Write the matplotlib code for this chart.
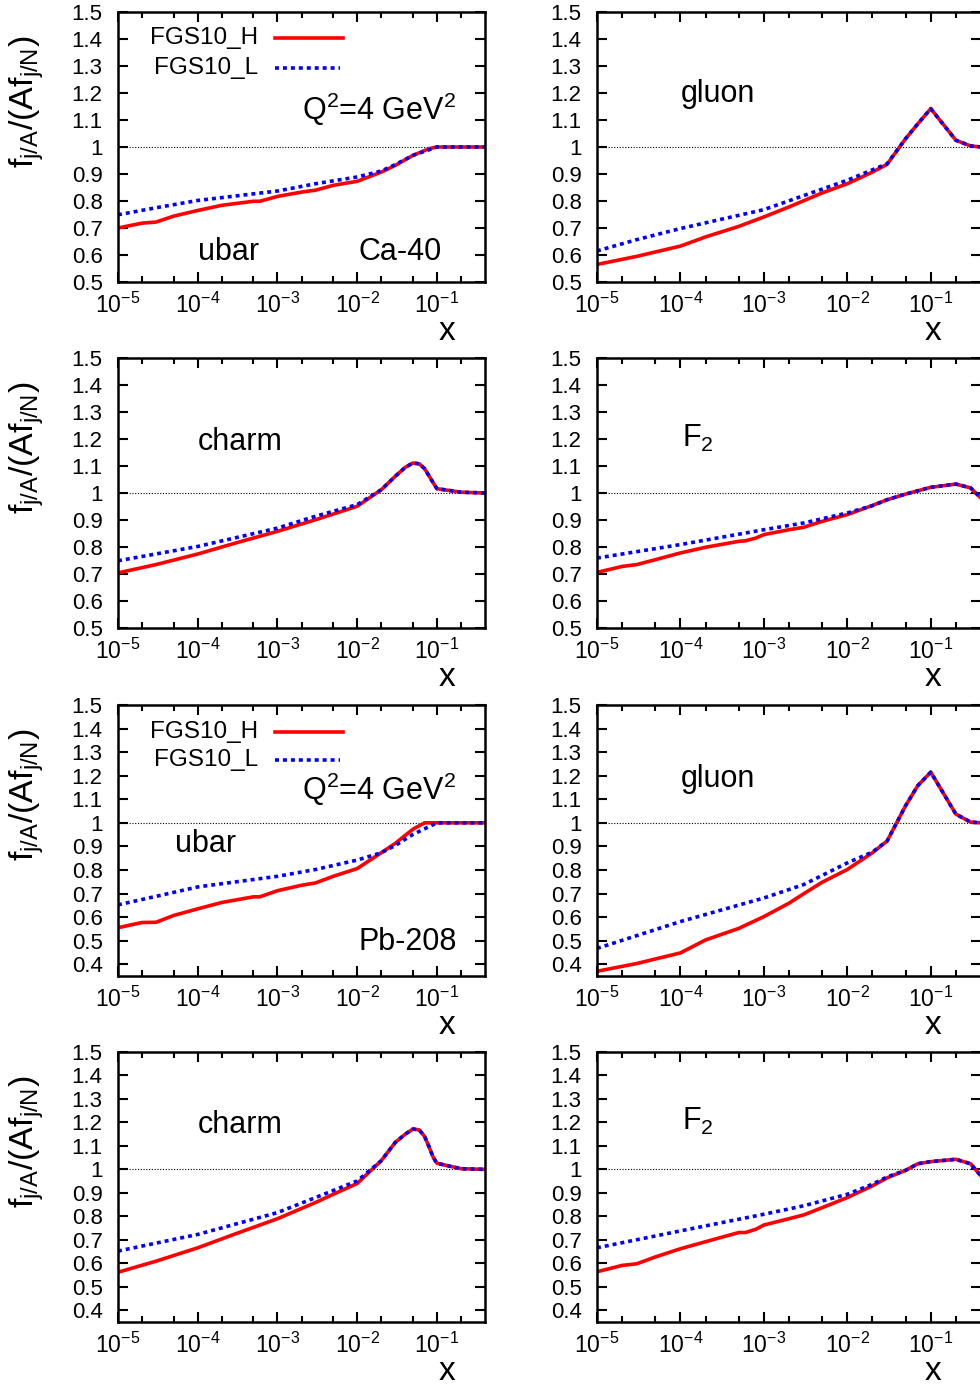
import numpy as np
import matplotlib
matplotlib.use('Agg')
import matplotlib.pyplot as plt
from matplotlib.ticker import LogLocator, FuncFormatter, NullFormatter

plt.rcParams['font.family'] = ['Liberation Sans', 'DejaVu Sans']
plt.rcParams['mathtext.fontset'] = 'custom'
plt.rcParams['mathtext.rm'] = 'Liberation Sans'
plt.rcParams['mathtext.it'] = 'Liberation Sans'
plt.rcParams['mathtext.bf'] = 'Liberation Sans:bold'
plt.rcParams['axes.unicode_minus'] = False

# ---- data: ratio f_{j/A}/(A f_{j/N}) vs x ----
# Ca-40, ubar
ca_ubar_xH = [1e-5, 2e-5, 3e-5, 5e-5, 1e-4, 2e-4, 5e-4, 6e-4, 1e-3, 2e-3, 3e-3, 5e-3, 1e-2, 2e-2, 3e-2, 5e-2, 8e-2, 0.1, 0.4]
ca_ubar_H = [0.700, 0.718, 0.722, 0.744, 0.765, 0.784, 0.799, 0.799, 0.817, 0.833, 0.840, 0.858, 0.873, 0.907, 0.932, 0.969, 0.994, 1.0, 1.0]
ca_ubar_xL = [1e-5, 3e-5, 1e-4, 1e-3, 3e-3, 1e-2, 2e-2, 3e-2, 5e-2, 0.1, 0.4]
ca_ubar_L = [0.749, 0.775, 0.802, 0.837, 0.864, 0.889, 0.911, 0.935, 0.969, 1.0, 1.0]

# Ca-40, gluon
ca_glu_xH = [1e-5, 3e-5, 1e-4, 2e-4, 5e-4, 1e-3, 2e-3, 5e-3, 1e-2, 2e-2, 3e-2, 5e-2, 7e-2, 0.1, 0.2, 0.3, 0.4]
ca_glu_H = [0.565, 0.595, 0.633, 0.667, 0.706, 0.741, 0.778, 0.830, 0.864, 0.907, 0.936, 1.031, 1.086, 1.142, 1.025, 1.004, 1.0]
ca_glu_xL = [1e-5, 3e-5, 1e-4, 1e-3, 1e-2, 3e-2, 5e-2, 7e-2, 0.1, 0.2, 0.3, 0.4]
ca_glu_L = [0.615, 0.657, 0.698, 0.768, 0.877, 0.938, 1.031, 1.086, 1.142, 1.025, 1.004, 1.0]

# Ca-40, charm
ca_chm_xH = [1e-5, 3e-5, 1e-4, 3e-4, 1e-3, 3e-3, 5e-3, 1e-2, 2e-2, 3e-2, 4e-2, 5e-2, 6e-2, 7e-2, 8e-2, 9e-2, 0.1, 0.2, 0.4]
ca_chm_H = [0.704, 0.735, 0.774, 0.815, 0.858, 0.901, 0.922, 0.951, 1.012, 1.062, 1.095, 1.111, 1.108, 1.090, 1.062, 1.037, 1.016, 1.003, 1.0]
ca_chm_xL = [1e-5, 1e-4, 1e-3, 3e-3, 1e-2, 2e-2, 3e-2, 4e-2, 5e-2, 6e-2, 7e-2, 8e-2, 9e-2, 0.1, 0.2, 0.4]
ca_chm_L = [0.749, 0.802, 0.870, 0.914, 0.957, 1.012, 1.062, 1.095, 1.111, 1.108, 1.090, 1.062, 1.037, 1.016, 1.003, 1.0]

# Ca-40, F2
ca_f2_xH = [1e-5, 2e-5, 3e-5, 5e-5, 1e-4, 2e-4, 5e-4, 6e-4, 8e-4, 1e-3, 2e-3, 3e-3, 5e-3, 1e-2, 2e-2, 3e-2, 5e-2, 0.1, 0.2, 0.3, 0.4]
ca_f2_H = [0.706, 0.728, 0.735, 0.753, 0.778, 0.799, 0.821, 0.823, 0.833, 0.846, 0.864, 0.873, 0.895, 0.920, 0.954, 0.975, 0.996, 1.021, 1.033, 1.019, 0.981]
ca_f2_xL = [1e-5, 1e-4, 1e-3, 3e-3, 1e-2, 2e-2, 3e-2, 5e-2, 0.1, 0.2, 0.3, 0.4]
ca_f2_L = [0.759, 0.809, 0.864, 0.889, 0.926, 0.953, 0.975, 0.996, 1.021, 1.033, 1.019, 0.981]

# Pb-208, ubar
pb_ubar_xH = [1e-5, 2e-5, 3e-5, 5e-5, 1e-4, 2e-4, 5e-4, 6e-4, 1e-3, 2e-3, 3e-3, 5e-3, 1e-2, 2e-2, 3e-2, 5e-2, 7e-2, 0.1, 0.4]
pb_ubar_H = [0.555, 0.577, 0.578, 0.607, 0.635, 0.662, 0.686, 0.686, 0.712, 0.735, 0.745, 0.773, 0.806, 0.873, 0.913, 0.973, 1.0, 1.0, 1.0]
pb_ubar_xL = [1e-5, 3e-5, 1e-4, 1e-3, 3e-3, 1e-2, 2e-2, 3e-2, 5e-2, 0.1, 0.4]
pb_ubar_L = [0.652, 0.688, 0.728, 0.773, 0.802, 0.842, 0.873, 0.904, 0.951, 1.0, 1.0]

# Pb-208, gluon
pb_glu_xH = [1e-5, 3e-5, 1e-4, 2e-4, 5e-4, 1e-3, 2e-3, 3e-3, 5e-3, 1e-2, 2e-2, 3e-2, 5e-2, 7e-2, 0.1, 0.2, 0.3, 0.4]
pb_glu_H = [0.370, 0.403, 0.448, 0.503, 0.552, 0.602, 0.659, 0.699, 0.748, 0.802, 0.873, 0.923, 1.073, 1.158, 1.215, 1.037, 1.003, 1.0]
pb_glu_xL = [1e-5, 1e-4, 1e-3, 3e-3, 1e-2, 2e-2, 3e-2, 5e-2, 7e-2, 0.1, 0.2, 0.3, 0.4]
pb_glu_L = [0.467, 0.581, 0.681, 0.738, 0.830, 0.876, 0.923, 1.073, 1.158, 1.215, 1.037, 1.003, 1.0]

# Pb-208, charm
pb_chm_xH = [1e-5, 3e-5, 1e-4, 3e-4, 1e-3, 3e-3, 5e-3, 1e-2, 2e-2, 3e-2, 4e-2, 5e-2, 6e-2, 7e-2, 8e-2, 9e-2, 0.1, 0.2, 0.4]
pb_chm_H = [0.562, 0.609, 0.666, 0.726, 0.790, 0.859, 0.894, 0.940, 1.037, 1.115, 1.150, 1.172, 1.168, 1.140, 1.094, 1.050, 1.026, 1.003, 1.0]
pb_chm_xL = [1e-5, 1e-4, 1e-3, 3e-3, 1e-2, 2e-2, 3e-2, 4e-2, 5e-2, 6e-2, 7e-2, 8e-2, 9e-2, 0.1, 0.2, 0.4]
pb_chm_L = [0.652, 0.723, 0.816, 0.880, 0.951, 1.037, 1.115, 1.150, 1.172, 1.168, 1.140, 1.094, 1.050, 1.026, 1.003, 1.0]

# Pb-208, F2
pb_f2_xH = [1e-5, 2e-5, 3e-5, 5e-5, 1e-4, 2e-4, 5e-4, 6e-4, 8e-4, 1e-3, 2e-3, 3e-3, 5e-3, 1e-2, 2e-2, 3e-2, 5e-2, 7e-2, 0.1, 0.2, 0.3, 0.4]
pb_f2_H = [0.564, 0.591, 0.598, 0.627, 0.662, 0.692, 0.731, 0.731, 0.745, 0.763, 0.790, 0.806, 0.837, 0.880, 0.930, 0.964, 0.996, 1.024, 1.033, 1.043, 1.024, 0.972]
pb_f2_xL = [1e-5, 1e-4, 1e-3, 3e-3, 1e-2, 2e-2, 3e-2, 5e-2, 7e-2, 0.1, 0.2, 0.3, 0.4]
pb_f2_L = [0.666, 0.738, 0.809, 0.845, 0.894, 0.937, 0.968, 0.996, 1.024, 1.033, 1.043, 1.024, 0.972]

labels = ['FGS10_H', 'FGS10_L']

W, H = 980, 1386
fig = plt.figure(figsize=(W / 100, H / 100), dpi=100)

# panel boxes in pixels
cols = [(118, 485), (597, 981)]
rows = [(12, 282), (358, 628), (705, 976), (1052, 1322)]

LW = 2.6
DOTS = (0, (1.1, 1.1))


def make_ax(r, c, ymin):
    x0, x1 = cols[c]
    y0, y1 = rows[r]
    ax = fig.add_axes([x0 / W, 1 - y1 / H, (x1 - x0) / W, (y1 - y0) / H])
    ax.set_xscale('log')
    ax.set_xlim(1e-5, 0.4)
    ax.set_ylim(ymin, 1.5)
    ax.set_yticks(np.round(np.arange(0.4 if ymin < 0.4 else 0.5, 1.51, 0.1), 1))
    ax.yaxis.set_major_formatter(FuncFormatter(lambda v, p: '%g' % v))
    ax.xaxis.set_major_locator(LogLocator(base=10, numticks=10))
    ax.xaxis.set_minor_locator(LogLocator(base=10, subs=(2.0, 5.0), numticks=10))
    ax.xaxis.set_minor_formatter(NullFormatter())
    ax.tick_params(which='both', direction='in', top=True, right=True, width=1.5)
    ax.tick_params(which='major', length=7.5)
    ax.tick_params(which='minor', length=4)
    ax.tick_params(axis='y', pad=11, labelsize=16)
    ax.tick_params(axis='x', pad=8, labelsize=16.5)
    for s in ax.spines.values():
        s.set_linewidth(1.8)
    ax.axhline(1.0, color='black', lw=0.8, ls=(0, (1, 1.5)))
    xl = (447 - x0) / (x1 - x0) if c == 0 else (933 - x0) / (x1 - x0)
    ax.text(xl, -50 / (y1 - y0), 'x', transform=ax.transAxes, fontsize=24,
            ha='center', va='center')
    if c == 0:
        ax.text(-91 / (x1 - x0), (y1 - (y0 + 90)) / (y1 - y0),
                r'$f_{j/A}/(Af_{j/N})$', transform=ax.transAxes, rotation=90,
                fontsize=24.5, ha='center', va='center')
    return ax


def draw(ax, xh, yh, xl, yl):
    ax.plot(xh, yh, color='#ff0000', lw=LW)
    ax.plot(xl, yl, color='#0000ff', lw=LW, ls=DOTS, dash_capstyle='butt')


def legend(ax, fy1, fy2):
    for fy, lab, ls, col, x2 in [(fy1, labels[0], '-', '#ff0000', 0.613),
                                 (fy2, labels[1], DOTS, '#0000ff', 0.605)]:
        ax.text(0.381, fy, lab, transform=ax.transAxes, fontsize=17.5, ha='right', va='center')
        ax.plot([0.428, x2], [fy, fy], transform=ax.transAxes, color=col, lw=LW, ls=ls)


def label(ax, fx, fy, s, size=22):
    ax.text(fx, fy, s, transform=ax.transAxes, fontsize=size, ha='left', va='baseline')


# row 1: Ca-40
ax = make_ax(0, 0, 0.5)
draw(ax, ca_ubar_xH, ca_ubar_H, ca_ubar_xL, ca_ubar_L)
legend(ax, 0.904, 0.793)
label(ax, 0.501, 0.60, r'Q$^2$=4 GeV$^2$')
label(ax, 0.218, 0.081, 'ubar')
label(ax, 0.654, 0.081, 'Ca-40')

ax = make_ax(0, 1, 0.5)
draw(ax, ca_glu_xH, ca_glu_H, ca_glu_xL, ca_glu_L)
label(ax, 0.219, 0.667, 'gluon')

# row 2
ax = make_ax(1, 0, 0.5)
draw(ax, ca_chm_xH, ca_chm_H, ca_chm_xL, ca_chm_L)
label(ax, 0.218, 0.659, 'charm')

ax = make_ax(1, 1, 0.5)
draw(ax, ca_f2_xH, ca_f2_H, ca_f2_xL, ca_f2_L)
label(ax, 0.221, 0.670, r'F$_2$')

# row 3: Pb-208
ax = make_ax(2, 0, 0.35)
draw(ax, pb_ubar_xH, pb_ubar_H, pb_ubar_xL, pb_ubar_L)
legend(ax, 0.900, 0.797)
label(ax, 0.501, 0.650, r'Q$^2$=4 GeV$^2$')
label(ax, 0.155, 0.458, 'ubar')
label(ax, 0.654, 0.096, 'Pb-208')

ax = make_ax(2, 1, 0.35)
draw(ax, pb_glu_xH, pb_glu_H, pb_glu_xL, pb_glu_L)
label(ax, 0.219, 0.697, 'gluon')

# row 4
ax = make_ax(3, 0, 0.35)
draw(ax, pb_chm_xH, pb_chm_H, pb_chm_xL, pb_chm_L)
label(ax, 0.218, 0.700, 'charm')

ax = make_ax(3, 1, 0.35)
draw(ax, pb_f2_xH, pb_f2_H, pb_f2_xL, pb_f2_L)
label(ax, 0.221, 0.711, r'F$_2$')

fig.savefig('out.png', dpi=100)
